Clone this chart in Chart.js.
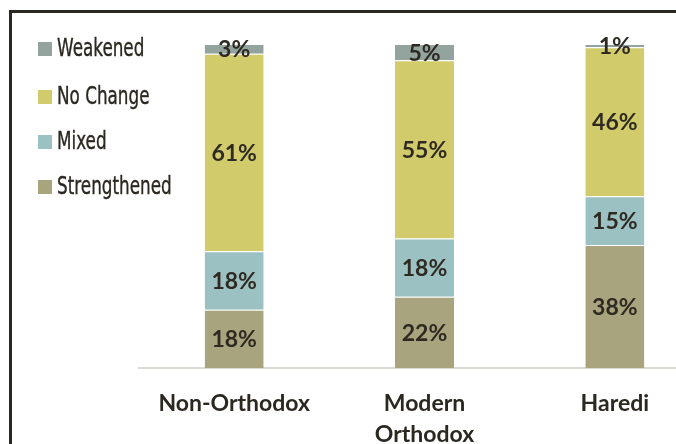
<!DOCTYPE html>
<html>
<head>
<meta charset="utf-8">
<script src="https://cdn.jsdelivr.net/npm/chart.js@4.4.1/dist/chart.umd.min.js"></script>
<style>
  html, body { margin: 0; padding: 0; background: #fff; overflow: hidden; width: 676px; height: 444px; }
  #frame { position: absolute; left: 9px; top: 10px; width: 700px; height: 440px;
           border-left: 3px solid #2b2820; border-top: 3px solid #2b2820; }
  #wrap { position: absolute; left: 0; top: 0; width: 720px; height: 444px; }
  #legend { position: absolute; left: 38px; top: 0; font-family: "DejaVu Sans", sans-serif;
            font-size: 24px; color: #2b2820; }
  .item { position: absolute; left: 0; white-space: nowrap; height: 26px; line-height: 26px; }
  .box { display: inline-block; width: 14px; height: 14px; margin-right: 5px; vertical-align: 0px; }
  .txt { display: inline-block; transform: scale(0.7, 1); transform-origin: left center;
         -webkit-text-stroke: 0.4px #2b2820; }
</style>
</head>
<body>
<div id="frame"></div>
<div id="wrap"><canvas id="chart"></canvas></div>
<div id="legend"></div>
<script>
const categories = [["Non-Orthodox"], ["Modern", "Orthodox"], ["Haredi"]];
const seriesNames = ["Strengthened", "Mixed", "No Change", "Weakened"];
const strengthened = [18, 22, 38];
const mixed = [18, 18, 15];
const noChange = [61, 55, 46];
const weakened = [3, 5, 1];
const colors = ["#a8a47e", "#9cc1c2", "#d2cb6c", "#93a39e"];

const values = [strengthened, mixed, noChange, weakened];
const legendTops = [35, 83, 128, 173];

// legend, top item is the last series
const legend = document.getElementById("legend");
seriesNames.slice().reverse().forEach((name, i) => {
  const idx = seriesNames.length - 1 - i;
  const div = document.createElement("div");
  div.className = "item";
  div.style.top = legendTops[i] + "px";
  div.innerHTML = '<span class="box" style="background:' + colors[idx] + '"></span><span class="txt">' + name + '</span>';
  legend.appendChild(div);
});

const barLabels = {
  id: "barLabels",
  afterDatasetsDraw(chart) {
    const ctx = chart.ctx;
    ctx.save();
    ctx.font = "bold 23px Lato, 'Open Sans', sans-serif";
    ctx.fillStyle = "#2e2a22";
    ctx.textAlign = "center";
    ctx.textBaseline = "middle";
    chart.data.datasets.forEach((ds, di) => {
      chart.getDatasetMeta(di).data.forEach((el, i) => {
        ctx.fillText(ds.data[i] + "%", el.x, (el.y + el.base) / 2 + 1);
      });
    });
    ctx.restore();
  }
};

new Chart(document.getElementById("chart"), {
  type: "bar",
  data: {
    labels: categories,
    datasets: seriesNames.map((name, i) => ({
      label: name,
      data: values[i],
      backgroundColor: colors[i],
      borderColor: "#ffffff",
      borderWidth: { top: 1, bottom: 0, left: 0, right: 0 },
      borderSkipped: false,
      barPercentage: 0.31,
      categoryPercentage: 1
    }))
  },
  options: {
    responsive: true,
    maintainAspectRatio: false,
    animation: false,
    layout: { padding: { left: 139, right: 10, top: 44, bottom: 0 } },
    scales: {
      x: {
        stacked: true,
        grid: { display: false },
        border: { display: true, color: "#dcdad2", width: 2 },
        ticks: {
          color: "#2b2820",
          padding: 12,
          font: { family: "Lato, 'Open Sans', sans-serif", size: 23, weight: "bold", lineHeight: 1.35 }
        },
        afterFit: (scale) => { scale.height = 76; }
      },
      y: {
        stacked: true,
        display: false,
        min: 0,
        max: 100
      }
    },
    plugins: {
      legend: { display: false },
      tooltip: { enabled: false }
    }
  },
  plugins: [barLabels]
});
</script>
</body>
</html>
